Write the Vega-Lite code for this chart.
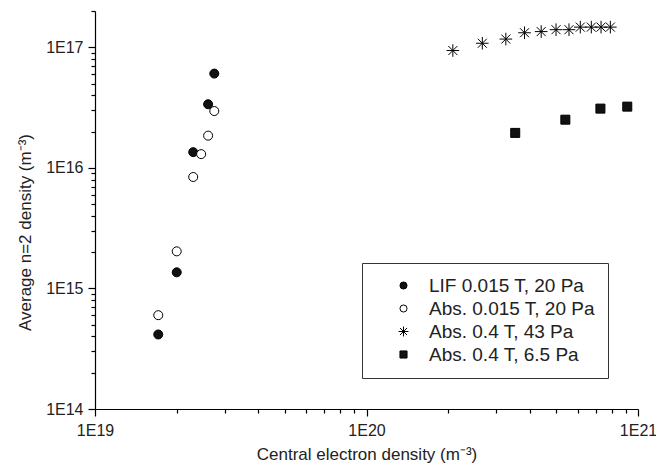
{
  "$schema": "https://vega.github.io/schema/vega-lite/v6.json",
  "autosize": {"type": "none"},
  "width": 543,
  "height": 398,
  "padding": {"left": 95, "top": 11, "right": 18, "bottom": 65},
  "background": "white",
  "config": {
    "view": {"stroke": null},
    "font": "Liberation Sans",
    "axis": {"grid": false, "domainColor": "black", "tickColor": "black", "labelColor": "#222", "titleColor": "#222", "labelFont": "Liberation Sans", "titleFont": "Liberation Sans", "titleFontWeight": "normal", "domainWidth": 1.2, "tickWidth": 1.2},
    "legend": {
      "title": null, "orient": "none", "legendX": 267, "legendY": 252,
      "strokeColor": "#333", "padding": 13, "symbolOffset": 19, "labelOffset": 16,
      "labelFontSize": 19, "labelFont": "Liberation Sans", "labelColor": "#222",
      "symbolSize": 50, "symbolStrokeWidth": 1,
      "rowPadding": 3, "labelLimit": 400, "fillColor": "white"
    }
  },
  "data": {
    "values": [
      {"series": "LIF 0.015 T, 20 Pa", "ne": 2.75e19, "n2": 6.05e16},
      {"series": "LIF 0.015 T, 20 Pa", "ne": 2.61e19, "n2": 3.37e16},
      {"series": "LIF 0.015 T, 20 Pa", "ne": 2.30e19, "n2": 1.35e16},
      {"series": "LIF 0.015 T, 20 Pa", "ne": 2.0e19, "n2": 1.36e15},
      {"series": "LIF 0.015 T, 20 Pa", "ne": 1.71e19, "n2": 4.15e14},
      {"series": "Abs. 0.015 T, 20 Pa", "ne": 2.75e19, "n2": 2.96e16},
      {"series": "Abs. 0.015 T, 20 Pa", "ne": 2.61e19, "n2": 1.85e16},
      {"series": "Abs. 0.015 T, 20 Pa", "ne": 2.46e19, "n2": 1.30e16},
      {"series": "Abs. 0.015 T, 20 Pa", "ne": 2.30e19, "n2": 8.4e15},
      {"series": "Abs. 0.015 T, 20 Pa", "ne": 2.0e19, "n2": 2.03e15},
      {"series": "Abs. 0.015 T, 20 Pa", "ne": 1.71e19, "n2": 6.0e14},
      {"series": "Abs. 0.4 T, 43 Pa", "ne": 2.08e20, "n2": 9.4e16},
      {"series": "Abs. 0.4 T, 43 Pa", "ne": 2.67e20, "n2": 1.08e17},
      {"series": "Abs. 0.4 T, 43 Pa", "ne": 3.26e20, "n2": 1.17e17},
      {"series": "Abs. 0.4 T, 43 Pa", "ne": 3.82e20, "n2": 1.32e17},
      {"series": "Abs. 0.4 T, 43 Pa", "ne": 4.40e20, "n2": 1.35e17},
      {"series": "Abs. 0.4 T, 43 Pa", "ne": 4.99e20, "n2": 1.40e17},
      {"series": "Abs. 0.4 T, 43 Pa", "ne": 5.57e20, "n2": 1.40e17},
      {"series": "Abs. 0.4 T, 43 Pa", "ne": 6.13e20, "n2": 1.47e17},
      {"series": "Abs. 0.4 T, 43 Pa", "ne": 6.73e20, "n2": 1.47e17},
      {"series": "Abs. 0.4 T, 43 Pa", "ne": 7.31e20, "n2": 1.47e17},
      {"series": "Abs. 0.4 T, 43 Pa", "ne": 7.91e20, "n2": 1.47e17},
      {"series": "Abs. 0.4 T, 6.5 Pa", "ne": 3.53e20, "n2": 1.95e16},
      {"series": "Abs. 0.4 T, 6.5 Pa", "ne": 5.40e20, "n2": 2.51e16},
      {"series": "Abs. 0.4 T, 6.5 Pa", "ne": 7.27e20, "n2": 3.10e16},
      {"series": "Abs. 0.4 T, 6.5 Pa", "ne": 9.13e20, "n2": 3.22e16}
    ]
  },
  "mark": {"type": "point", "filled": true, "strokeWidth": 1, "size": 81, "opacity": 1},
  "encoding": {
    "x": {
      "field": "ne", "type": "quantitative",
      "scale": {"type": "log", "domain": [1e19, 1e21], "nice": false},
      "axis": {
        "title": "Central electron density (m⁻³)",
        "values": [1e19, 2e19, 3e19, 4e19, 5e19, 6e19, 7e19, 8e19, 9e19, 1e20, 2e20, 3e20, 4e20, 5e20, 6e20, 7e20, 8e20, 9e20, 1e21],
        "labelExpr": "abs(log(datum.value)/LN10 - round(log(datum.value)/LN10)) < 0.001 ? '1E' + round(log(datum.value)/LN10) : ''",
        "tickSize": {"condition": {"test": "abs(log(datum.value)/LN10 - round(log(datum.value)/LN10)) < 0.001", "value": 7}, "value": 4},
        "labelFontSize": 16, "titleFontSize": 17, "labelPadding": 6, "titlePadding": 8,
        "labelOverlap": false, "labelFlush": false
      }
    },
    "y": {
      "field": "n2", "type": "quantitative",
      "scale": {"type": "log", "domain": [1e14, 2e17], "nice": false},
      "axis": {
        "title": "Average n=2 density (m⁻³)",
        "values": [1e14, 2e14, 3e14, 4e14, 5e14, 6e14, 7e14, 8e14, 9e14, 1e15, 2e15, 3e15, 4e15, 5e15, 6e15, 7e15, 8e15, 9e15, 1e16, 2e16, 3e16, 4e16, 5e16, 6e16, 7e16, 8e16, 9e16, 1e17, 2e17],
        "labelExpr": "abs(log(datum.value)/LN10 - round(log(datum.value)/LN10)) < 0.001 ? '1E' + round(log(datum.value)/LN10) : ''",
        "tickSize": {"condition": {"test": "abs(log(datum.value)/LN10 - round(log(datum.value)/LN10)) < 0.001", "value": 7}, "value": 4},
        "labelFontSize": 16, "titleFontSize": 17, "labelPadding": 5,
        "titleX": -70, "titleY": 221, "titleBaseline": "middle",
        "labelOverlap": false, "labelFlush": false
      }
    },
    "shape": {
      "field": "series", "type": "nominal",
      "scale": {
        "domain": ["LIF 0.015 T, 20 Pa", "Abs. 0.015 T, 20 Pa", "Abs. 0.4 T, 43 Pa", "Abs. 0.4 T, 6.5 Pa"],
        "range": ["circle", "circle", "M-1.4,0H1.4M0,-1.4V1.4M-1,-1L1,1M-1,1L1,-1", "square"]
      }
    },
    "fill": {
      "field": "series", "type": "nominal",
      "scale": {
        "domain": ["LIF 0.015 T, 20 Pa", "Abs. 0.015 T, 20 Pa", "Abs. 0.4 T, 43 Pa", "Abs. 0.4 T, 6.5 Pa"],
        "range": ["#111", "white", "transparent", "#111"]
      }
    },
    "stroke": {
      "field": "series", "type": "nominal",
      "scale": {
        "domain": ["LIF 0.015 T, 20 Pa", "Abs. 0.015 T, 20 Pa", "Abs. 0.4 T, 43 Pa", "Abs. 0.4 T, 6.5 Pa"],
        "range": ["black", "black", "black", "black"]
      }
    }
  }
}
